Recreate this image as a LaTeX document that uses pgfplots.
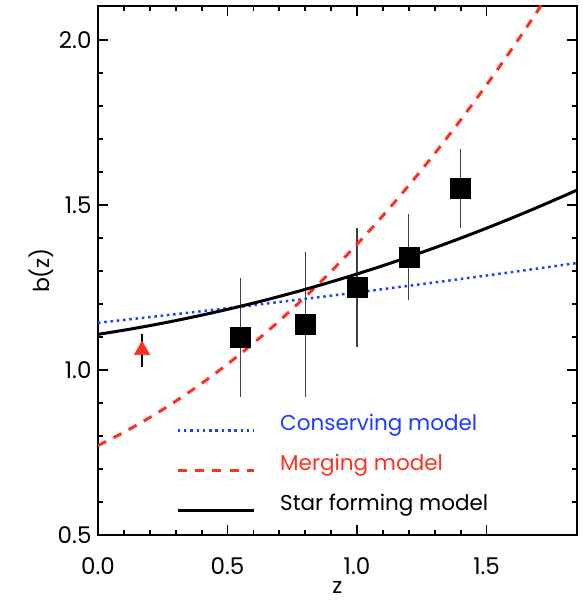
\documentclass[border=0pt]{standalone}
\usepackage{fontspec}
\setmainfont{Poppins}
\usepackage{pgfplots}
\pgfplotsset{compat=1.18}
\definecolor{myred}{RGB}{255,48,32}
\definecolor{myblue}{RGB}{30,60,255}
\begin{document}
\begin{tikzpicture}
\begin{axis}[
  scale only axis,
  width=479pt, height=529pt,
  xmin=0, xmax=1.849, ymin=0.5, ymax=2.103,
  axis line style={line width=2pt},
  xtick={0,0.5,1.0,1.5}, ytick={0.5,1.0,1.5,2.0},
  minor x tick num=4, minor y tick num=4,
  tick align=inside,
  major tick length=10pt, minor tick length=5pt,
  every tick/.style={black, line width=1.8pt},
  xticklabels={0.0,0.5,1.0,1.5},
  yticklabels={0.5,1.0,1.5,2.0},
  /pgf/number format/assume math mode=true,
  tick label style={font=\fontsize{23}{27}\selectfont},
  yticklabel style={xshift=-3pt},
  xticklabel style={yshift=-19pt},
  label style={font=\fontsize{22}{26}\selectfont},
  xlabel={z}, ylabel={b(z)},
  xlabel style={yshift=-2pt, inner sep=1pt},
  ylabel style={yshift=-3pt},
  legend style={draw=none, fill=none, inner sep=0pt,
    at={(axis cs:0.301,0.86)}, anchor=north west,
    row sep=21pt, column sep=25pt,
    nodes={inner sep=0pt, anchor=base west, text height=14pt, text depth=5pt},
    font=\fontsize{21.5}{25}\selectfont},
  legend cell align=left,
  legend image code/.code={\draw[#1] (0pt,0pt) -- (76pt,0pt);},
]
% data points
\addplot[forget plot, only marks, mark=square*, mark size=10pt, black,
  error bars/.cd, y dir=both, y explicit, error mark=none,
  error bar style={line width=1.2pt, black!75}]
  table[x=x, y=y, y error=e] {
x y e
0.55 1.099 0.18
0.80 1.139 0.22
1.00 1.250 0.18
1.20 1.343 0.13
1.40 1.550 0.12
};
\addplot[forget plot, only marks, mark=triangle*, mark size=9pt, myred,
  error bars/.cd, y dir=both, y explicit, error mark=none,
  error bar style={line width=1.2pt, black}]
  table[x=x, y=y, y error=e] {
x y e
0.17 1.060 0.05
};
% models
\addplot[myblue, line width=2.5pt, dash pattern=on 2.5pt off 3.8pt] coordinates {
(0,1.143) (0.2,1.1603) (0.4,1.1781) (0.6,1.1965) (0.8,1.2155) (1.0,1.235)
(1.2,1.2551) (1.4,1.2757) (1.6,1.2969) (1.85,1.3242)};
\addlegendentry{\textcolor{myblue}{Conserving model}}
\addplot[myred, line width=3pt, dash pattern=on 9pt off 8.3pt, smooth] coordinates {
(0,0.771) (0.1,0.8113) (0.2,0.8560) (0.3,0.9054) (0.4,0.9593) (0.5,1.0179)
(0.6,1.0811) (0.7,1.1490) (0.8,1.2216) (0.9,1.2989) (1.0,1.381) (1.1,1.4679)
(1.2,1.5596) (1.3,1.6562) (1.4,1.7577) (1.5,1.8641) (1.6,1.9755) (1.7,2.0918)
(1.8,2.2132)};
\addlegendentry{\textcolor{myred}{Merging model}}
\addplot[black, line width=3pt, smooth] coordinates {
(0,1.108) (0.1,1.1206) (0.2,1.1345) (0.3,1.1497) (0.4,1.1661) (0.5,1.1838)
(0.6,1.2027) (0.7,1.2229) (0.8,1.2443) (0.9,1.2670) (1.0,1.291) (1.1,1.3162)
(1.2,1.3427) (1.3,1.3705) (1.4,1.3995) (1.5,1.4298) (1.6,1.4613) (1.7,1.4941)
(1.8,1.5281) (1.85,1.5456)};
\addlegendentry{Star forming model}
\end{axis}
\pgfresetboundingbox
\path[use as bounding box] (current axis.south west) ++(-98pt,-70pt) rectangle ++(582pt,605pt);
\end{tikzpicture}
\end{document}
